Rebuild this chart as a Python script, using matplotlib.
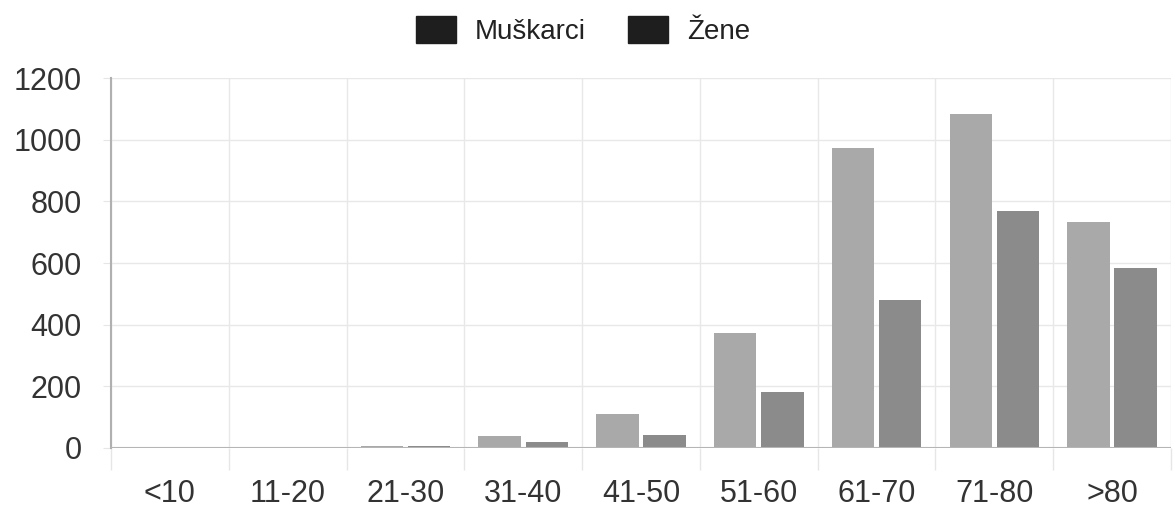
import numpy as np
import matplotlib.pyplot as plt
from matplotlib.patches import Patch

plt.rcParams['font.family'] = ['Liberation Sans', 'DejaVu Sans']

# dobne skupine i broj slucajeva
kategorije = ['<10', '11-20', '21-30', '31-40', '41-50', '51-60', '61-70', '71-80', '>80']
muskarci = [0, 1, 6, 39, 110, 373, 972, 1083, 733]
zene = [0, 1, 6, 19, 42, 181, 480, 768, 583]
y_ticks = [0, 200, 400, 600, 800, 1000, 1200]

boja_m = '#a9a9a9'
boja_z = '#8b8b8b'

fig = plt.figure(figsize=(11.75, 5.07), dpi=100)
ax = fig.add_axes([0.0945, 0.1164, 0.9021, 0.7296])

x = np.arange(len(kategorije))
sirina = 0.8 / 2 * 0.9
ax.bar(x - 0.2, muskarci, width=sirina, color=boja_m, zorder=3)
ax.bar(x + 0.2, zene, width=sirina, color=boja_z, zorder=3)

ax.set_xlim(-0.5, len(kategorije) - 0.5)
ax.set_ylim(0, 1200)

# mreza
ax.set_yticks(y_ticks)
ax.set_yticklabels([str(v) for v in y_ticks], fontsize=22, color='#333333')
ax.set_xticks(x)
ax.set_xticklabels(kategorije, fontsize=22, color='#333333')
ax.set_xticks(np.arange(len(kategorije) + 1) - 0.5, minor=True)
ax.tick_params(axis='x', which='major', length=0, pad=22)
ax.tick_params(axis='x', which='minor', length=16, color='#e6e6e6', width=1)
ax.tick_params(axis='y', which='major', length=6, color='#e6e6e6', pad=15)
ax.grid(True, which='minor', axis='x', color='#e8e8e8', lw=1, zorder=0)
ax.grid(True, which='major', axis='y', color='#e8e8e8', lw=1, zorder=0)
ax.axhline(0, color='#b5b5b5', lw=1.5, zorder=4)

for s in ['top', 'right', 'bottom']:
    ax.spines[s].set_visible(False)
ax.spines['left'].set_color('#b0b0b0')
ax.spines['left'].set_linewidth(1.5)

ruke = [Patch(facecolor='#1e1e1e', edgecolor='#1e1e1e'),
        Patch(facecolor='#1e1e1e', edgecolor='#1e1e1e')]
fig.legend(ruke, ['Muškarci', 'Žene'], loc='center', bbox_to_anchor=(0.496, 0.939),
           ncol=2, frameon=False, fontsize=20, handlelength=1.45, handleheight=1.12,
           handletextpad=0.68, columnspacing=1.5, labelcolor='#222222',
           borderpad=0)

fig.savefig('out.png', dpi=100)
